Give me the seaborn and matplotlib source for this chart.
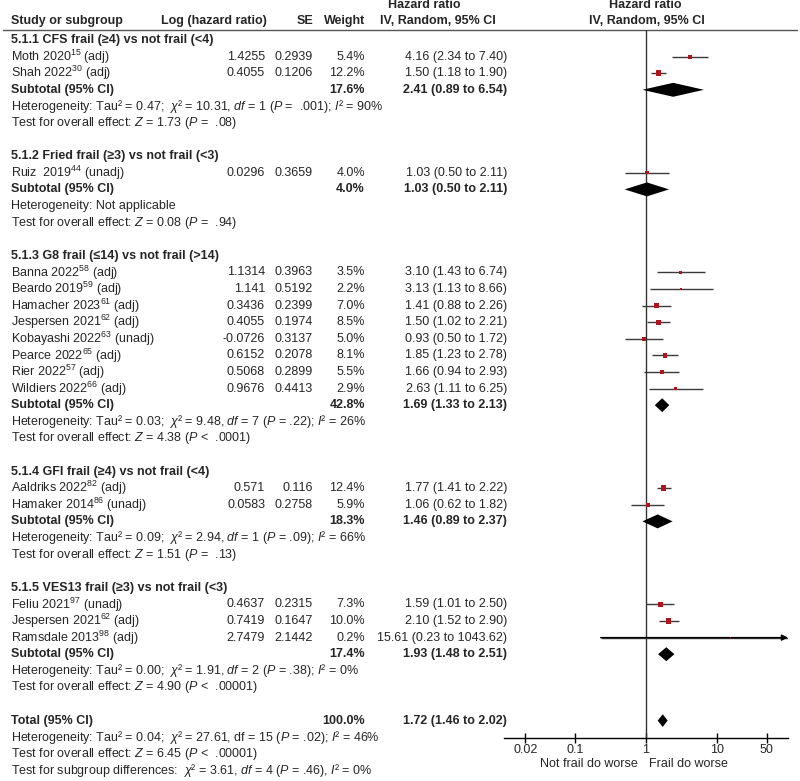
import numpy as np
import seaborn as sns
import matplotlib.pyplot as plt
from matplotlib.ticker import NullLocator

# Study-level data
group_titles = ['5.1.1 CFS frail (≥4) vs not frail (<4)',
                '5.1.2 Fried frail (≥3) vs not frail (<3)',
                '5.1.3 G8 frail (≤14) vs not frail (>14)',
                '5.1.4 GFI frail (≥4) vs not frail (<4)',
                '5.1.5 VES13 frail (≥3) vs not frail (<3)']
study_names = ['Moth 2020', 'Shah 2022', 'Ruiz  2019', 'Banna 2022', 'Beardo 2019',
               'Hamacher 2023', 'Jespersen 2021', 'Kobayashi 2022', 'Pearce 2022',
               'Rier 2022', 'Wildiers 2022', 'Aaldriks 2022', 'Hamaker 2014',
               'Feliu 2021', 'Jespersen 2021', 'Ramsdale 2013']
study_refs = ['15', '30', '44', '58', '59', '61', '62', '63', '65', '57', '66',
              '82', '86', '97', '62', '98']
study_adj = ['adj', 'adj', 'unadj', 'adj', 'adj', 'adj', 'adj', 'unadj', 'adj',
             'adj', 'adj', 'adj', 'unadj', 'unadj', 'adj', 'adj']
study_group = [0, 0, 1, 2, 2, 2, 2, 2, 2, 2, 2, 3, 3, 4, 4, 4]
log_hr = ['1.4255', '0.4055', '0.0296', '1.1314', '1.141', '0.3436', '0.4055', '-0.0726',
          '0.6152', '0.5068', '0.9676', '0.571', '0.0583', '0.4637', '0.7419', '2.7479']
se = ['0.2939', '0.1206', '0.3659', '0.3963', '0.5192', '0.2399', '0.1974', '0.3137',
      '0.2078', '0.2899', '0.4413', '0.116', '0.2758', '0.2315', '0.1647', '2.1442']
weight = np.array([5.4, 12.2, 4.0, 3.5, 2.2, 7.0, 8.5, 5.0, 8.1, 5.5, 2.9, 12.4, 5.9,
                   7.3, 10.0, 0.2])
hr = np.array([4.16, 1.50, 1.03, 3.10, 3.13, 1.41, 1.50, 0.93, 1.85, 1.66, 2.63, 1.77,
               1.06, 1.59, 2.10, 15.61])
ci_lo = np.array([2.34, 1.18, 0.50, 1.43, 1.13, 0.88, 1.02, 0.50, 1.23, 0.94, 1.11, 1.41,
                  0.62, 1.01, 1.52, 0.23])
ci_hi = np.array([7.40, 1.90, 2.11, 6.74, 8.66, 2.26, 2.21, 1.72, 2.78, 2.93, 6.25, 2.22,
                  1.82, 2.50, 2.90, 1043.62])

# Subgroup pooled results
sub_weight = [17.6, 4.0, 42.8, 18.3, 17.4]
sub_hr = [2.41, 1.03, 1.69, 1.46, 1.93]
sub_lo = [0.89, 0.50, 1.33, 0.89, 1.48]
sub_hi = [6.54, 2.11, 2.13, 2.37, 2.51]
sub_het = [r'Heterogeneity: Tau² = 0.47;  $\chi$² = 10.31, $df$ = 1 ($P$ =  .001); $I$² = 90%',
           'Heterogeneity: Not applicable',
           r'Heterogeneity: Tau² = 0.03;  $\chi$² = 9.48, $df$ = 7 ($P$ = .22); $I$² = 26%',
           r'Heterogeneity: Tau² = 0.09;  $\chi$² = 2.94, $df$ = 1 ($P$ = .09); $I$² = 66%',
           r'Heterogeneity: Tau² = 0.00;  $\chi$² = 1.91, $df$ = 2 ($P$ = .38); $I$² = 0%']
sub_test = [r'Test for overall effect: $Z$ = 1.73 ($P$ =  .08)',
            r'Test for overall effect: $Z$ = 0.08 ($P$ =  .94)',
            r'Test for overall effect: $Z$ = 4.38 ($P$ <  .0001)',
            r'Test for overall effect: $Z$ = 1.51 ($P$ =  .13)',
            r'Test for overall effect: $Z$ = 4.90 ($P$ <  .00001)']

# Overall result
total_weight = 100.0
total_hr, total_lo, total_hi = 1.72, 1.46, 2.02
total_notes = [r'Heterogeneity: Tau² = 0.04;  $\chi$² = 27.61, df = 15 ($P$ = .02); $I$² = 46%',
               r'Test for overall effect: $Z$ = 6.45 ($P$ <  .00001)',
               r'Test for subgroup differences:  $\chi$² = 3.61, $df$ = 4 ($P$ = .46), $I$² = 0%']

tick_vals = [0.02, 0.1, 1, 10, 50]
tick_labels = ['0.02', '0.1', '1', '10', '50']

sns.set_style('white')
plt.rcParams['font.family'] = ['Liberation Sans', 'DejaVu Sans']
plt.rcParams['mathtext.fontset'] = 'custom'
plt.rcParams['mathtext.rm'] = 'Liberation Sans'
plt.rcParams['mathtext.it'] = 'Liberation Sans:italic'
plt.rcParams['mathtext.bf'] = 'Liberation Sans:bold'
FS = 9.0

# row layout
study_rows, sub_rows, rows_het = [], [], []
r = 0
head_rows = []
for g in range(len(group_titles)):
    head_rows.append(r)
    r += 1
    for i in range(len(study_names)):
        if study_group[i] == g:
            study_rows.append(r)
            r += 1
    sub_rows.append(r)
    rows_het.append(r + 1)
    r += 4
total_row = r
study_rows = np.array(study_rows)

Y0, DY = 40.0, 16.6
def ypx(row):
    return Y0 + DY * row

fig = plt.figure(figsize=(8, 7.81), dpi=100)
ax_t = fig.add_axes([0, 0, 1, 1])
ax_t.set_xlim(0, 800)
ax_t.set_ylim(781, 0)
ax_t.axis('off')

# column headers
ax_t.text(388, 5, 'Hazard ratio', fontsize=FS, weight='bold', va='center')
ax_t.text(645, 5, 'Hazard ratio', fontsize=FS, weight='bold', va='center', ha='center')
ax_t.text(11, 21, 'Study or subgroup', fontsize=FS, weight='bold', va='center')
ax_t.text(267, 21, 'Log (hazard ratio)', fontsize=FS, weight='bold', va='center', ha='right')
ax_t.text(313, 21, 'SE', fontsize=FS, weight='bold', va='center', ha='right')
ax_t.text(365, 21, 'Weight', fontsize=FS, weight='bold', va='center', ha='right')
ax_t.text(380, 21, 'IV, Random, 95% CI', fontsize=FS, weight='bold', va='center')
ax_t.text(647, 21, 'IV, Random, 95% CI', fontsize=FS, weight='bold', va='center', ha='center')
ax_t.plot([3, 797], [29.5, 29.5], color='#555555', lw=1)

for g, title in enumerate(group_titles):
    ax_t.text(11, ypx(head_rows[g]), title, fontsize=FS, weight='bold', va='center')
    y = ypx(sub_rows[g])
    ax_t.text(11, y, 'Subtotal (95% CI)', fontsize=FS, weight='bold', va='center')
    ax_t.text(365, y, f'{sub_weight[g]:.1f}%', fontsize=FS, weight='bold', va='center', ha='right')
    ax_t.text(507, y, f'{sub_hr[g]:.2f} ({sub_lo[g]:.2f} to {sub_hi[g]:.2f})',
              fontsize=FS, weight='bold', va='center', ha='right')
    ax_t.text(11, ypx(rows_het[g]), sub_het[g], fontsize=FS, va='center')
    ax_t.text(11, ypx(rows_het[g] + 1), sub_test[g], fontsize=FS, va='center')

for i, name in enumerate(study_names):
    y = ypx(study_rows[i])
    ax_t.text(11, y, f'{name}$^{{{study_refs[i]}}}$ ({study_adj[i]})', fontsize=FS, va='center')
    ax_t.text(265, y, log_hr[i], fontsize=FS, va='center', ha='right')
    ax_t.text(313, y, se[i], fontsize=FS, va='center', ha='right')
    ax_t.text(365, y, f'{weight[i]:.1f}%', fontsize=FS, va='center', ha='right')
    ax_t.text(507, y, f'{hr[i]:.2f} ({ci_lo[i]:.2f} to {ci_hi[i]:.2f})', fontsize=FS,
              va='center', ha='right')

y = ypx(total_row)
ax_t.text(11, y, 'Total (95% CI)', fontsize=FS, weight='bold', va='center')
ax_t.text(365, y, f'{total_weight:.1f}%', fontsize=FS, weight='bold', va='center', ha='right')
ax_t.text(507, y, f'{total_hr:.2f} ({total_lo:.2f} to {total_hi:.2f})', fontsize=FS,
          weight='bold', va='center', ha='right')
for k, note in enumerate(total_notes):
    ax_t.text(11, ypx(total_row + 1 + k), note, fontsize=FS, va='center')

ax_t.text(638, 764, 'Not frail do worse', fontsize=FS, va='center', ha='right')
ax_t.text(649, 764, 'Frail do worse', fontsize=FS, va='center', ha='left')

# forest panel
top_px, bot_px, left_px, right_px = 30.0, 737.7, 504.0, 788.0
ax_f = fig.add_axes([left_px / 800, 1 - bot_px / 781, (right_px - left_px) / 800,
                     (bot_px - top_px) / 781])
ax_f.patch.set_alpha(0)
ax_f.set_xscale('log')
xmin, xmax = 0.01, 100
ax_f.set_xlim(xmin, xmax)
ax_f.set_ylim((bot_px - Y0) / DY, (top_px - Y0) / DY)

ax_f.axvline(1, color='#333333', lw=1, zorder=1)

hi_clip = np.minimum(ci_hi, xmax)
ax_f.hlines(study_rows, ci_lo, hi_clip, color='#3a3a3a', lw=1, zorder=2)
for i in range(len(ci_hi)):
    if ci_hi[i] > xmax:
        ax_f.annotate('', xy=(xmax, study_rows[i]), xytext=(ci_lo[i], study_rows[i]),
                      arrowprops=dict(arrowstyle='-|>', color='black', lw=1,
                                      mutation_scale=9, shrinkA=0, shrinkB=0),
                      annotation_clip=False, zorder=2)

sns.scatterplot(x=hr, y=study_rows, size=weight, sizes=(1.4 * weight.min(), 1.4 * weight.max()),
                marker='s', color='#b0141c', linewidth=0, legend=False, ax=ax_f, zorder=4)

h = 0.42
for g in range(len(group_titles)):
    rr = sub_rows[g]
    ax_f.fill([sub_lo[g], sub_hr[g], sub_hi[g], sub_hr[g]], [rr, rr - h, rr, rr + h],
              color='black', lw=0, zorder=3)
ax_f.fill([total_lo, total_hr, total_hi, total_hr],
          [total_row, total_row - 0.38, total_row, total_row + 0.38], color='black', lw=0, zorder=3)

for s in ['top', 'right', 'left']:
    ax_f.spines[s].set_visible(False)
ax_f.spines['bottom'].set_color('black')
ax_f.spines['bottom'].set_linewidth(1)
ax_f.set_yticks([])
ax_f.set_xticks(tick_vals)
ax_f.set_xticklabels(tick_labels, fontsize=FS)
ax_f.xaxis.set_minor_locator(NullLocator())
ax_f.tick_params(axis='x', direction='inout', length=7, width=1, color='black', pad=1, bottom=True)
ax_f.set_xlabel('')
ax_f.set_ylabel('')

fig.savefig('out.png', dpi=100)
